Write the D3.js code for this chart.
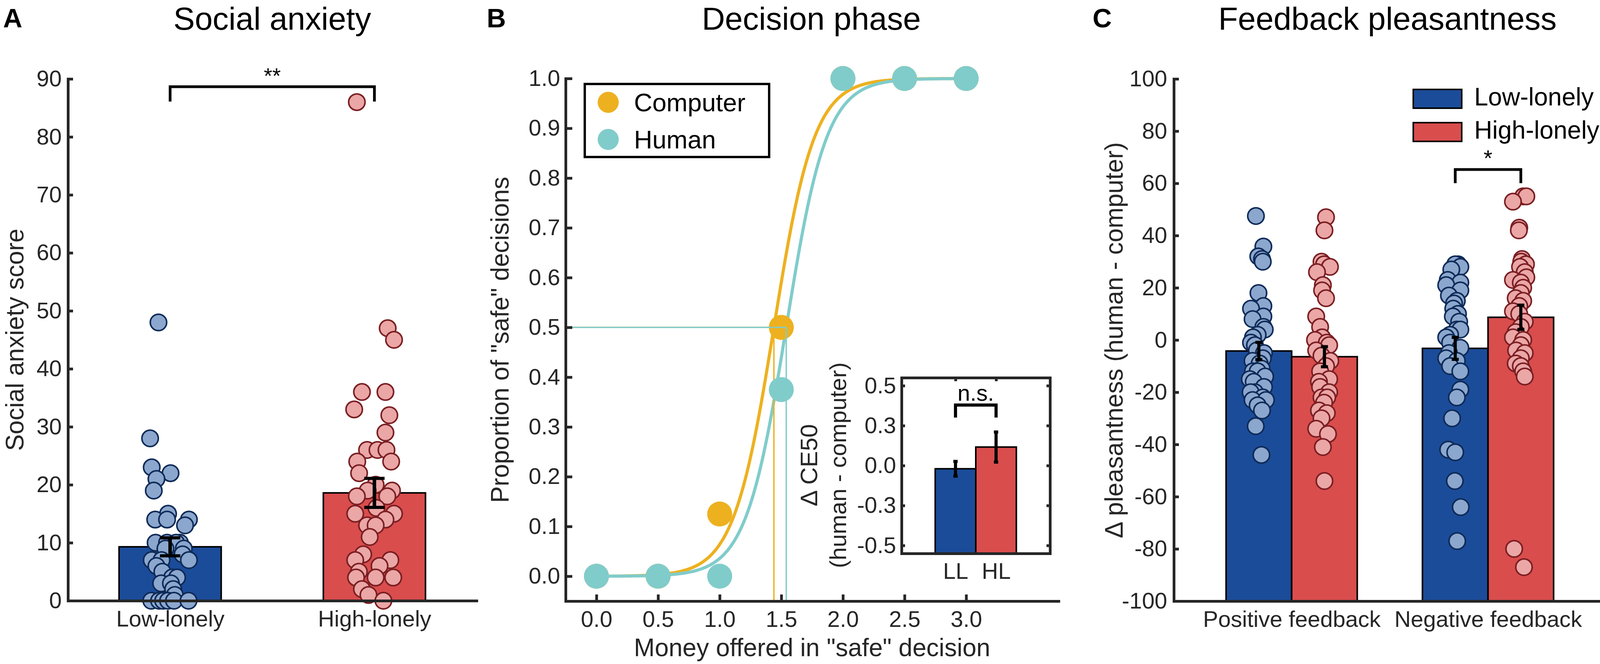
<!DOCTYPE html>
<html>
<head>
<meta charset="utf-8">
<script src="https://cdn.jsdelivr.net/npm/d3@7"></script>
<style>
  html, body { margin: 0; padding: 0; background: #fff; overflow: hidden; }
  svg { display: block; }
  text { font-family: "Liberation Sans", Arial, Helvetica, sans-serif; }
</style>
</head>
<body>
<div id="chart"></div>
<script>
// ---------- data ----------
// panel A: social anxiety
const lonelyGroups = ["Low-lonely", "High-lonely"];
const anxietyMeans = [9.3, 18.6];
const anxietySem = [1.55, 2.5];
// [score, jitter (x units)]
const anxietyLow = [[48,-0.057],[28,-0.098],[23,-0.090],[22,0.002],[21,-0.067],[19,-0.080],[15,-0.010],[14,-0.073],[14,-0.015],[14,0.092],[13,0.073],[10,-0.071],[10,-0.015],[10,0.048],[10,0.029],[9,-0.023],[9,0.067],[8,0.061],[7,-0.090],[7,-0.042],[7,0.092],[6,-0.067],[5,-0.038],[4,0.010],[4,0.034],[3,-0.044],[3,0.004],[2,0.015],[1,0.023],[0,-0.092],[0,-0.054],[0,-0.034],[0,-0.010],[0,0.019],[0,0.090]];
const anxietyHigh = [[86,-0.086],[47,0.065],[45,0.096],[36,-0.061],[36,0.054],[33,-0.099],[32,0.073],[29,0.054],[26,-0.036],[26,0.015],[26,0.059],[24,-0.084],[24,0.082],[22,-0.075],[20,0.006],[19,-0.033],[19,0.086],[18,-0.086],[18,0.063],[16,0.010],[15,-0.094],[15,0.096],[14,0.054],[13,-0.036],[13,0.006],[11,-0.023],[8,-0.055],[7,-0.094],[7,0.078],[6,0.025],[5,-0.076],[4,-0.090],[4,0.006],[4,0.092],[2,-0.061],[1,-0.029],[0,0.044]];

// panel B: decision phase
const moneyOffered = [0, 0.5, 1.0, 1.5, 2.0, 2.5, 3.0];
const propComputer = [0, 0, 0.125, 0.5, 1, 1, 1];
const propHuman = [0, 0, 0, 0.375, 1, 1, 1];
const agentNames = ["Computer", "Human"];
const fitCE50 = [1.44, 1.54];   // logistic fit midpoints
const fitSlope = [6.1, 6.1];    // logistic fit slopes
const ce50Groups = ["LL", "HL"];
const ce50Means = [-0.02, 0.116];
const ce50Sem = [0.046, 0.094];

// panel C: feedback pleasantness
const feedbackTypes = ["Positive feedback", "Negative feedback"];
const pleasantLowMeans = [-4.2, -3.2];
const pleasantHighMeans = [-6.4, 8.7];
const pleasantLowSem = [3.3, 4.2];
const pleasantHighSem = [3.85, 4.65];
const posLow = [[47.5,-0.015],[35.8,0.023],[32,-0.003],[31,0.016],[30,0.020],[18,-0.002],[13,0.023],[12,-0.040],[9,0.023],[8,-0.032],[5,0.023],[4,0.030],[2,-0.006],[1,-0.030],[-1,-0.040],[-2,-0.020],[-4,-0.010],[-5,0.026],[-7,0.020],[-8,-0.032],[-9,0.004],[-11,0.014],[-12,-0.030],[-12,-0.006],[-14,0.032],[-15,-0.046],[-16,-0.026],[-18,0.026],[-20,-0.020],[-20,-0.042],[-22,0.020],[-23,-0.032],[-23,0.036],[-25,-0.006],[-27,0.016],[-33,-0.016],[-44,0.013]];
const posHigh = [[47,0.008],[42,0],[30,-0.015],[29,-0.002],[28,0.028],[26,-0.038],[21,-0.008],[19,-0.012],[16,0.008],[9,-0.042],[5,-0.022],[1,-0.012],[0,-0.048],[-1,0.012],[-2,0.024],[-4,-0.042],[-6,-0.015],[-8,0.030],[-10,0.008],[-12,-0.022],[-15,0.024],[-16,-0.028],[-18,-0.022],[-20,0.024],[-22,-0.015],[-22,0.014],[-24,-0.002],[-27,-0.028],[-28,0.012],[-30,-0.015],[-34,-0.042],[-36,0.018],[-41,-0.008],[-54,0]];
const negLow = [[29,0.014],[29,0],[28,0.026],[27,-0.020],[23,-0.038],[22,0.026],[21,-0.046],[19,0.026],[17,-0.032],[15,0.008],[14,-0.006],[12,-0.010],[10,0.014],[9,-0.012],[7,0.020],[4,0.008],[4,0.026],[2,-0.026],[1,-0.046],[-1,-0.026],[-3,0.026],[-5,-0.032],[-7,-0.046],[-8,0.008],[-10,-0.026],[-12,0.026],[-19,0.026],[-22,0.008],[-30,-0.016],[-42,-0.036],[-43,0],[-54,-0.002],[-64,0.028],[-77,0.010]];
const negHigh = [[55,0.012],[55,0.028],[53,-0.040],[43,-0.008],[42,-0.010],[31,0.006],[30,0.002],[29,0.026],[28,-0.004],[26,0.020],[24,0.028],[23,-0.040],[22,0],[20,0.012],[18,0],[16,-0.026],[15,0.012],[13,-0.008],[11,-0.040],[10,-0.008],[7,0.020],[5,0],[3,-0.026],[1,-0.040],[0,0.012],[-2,0],[-4,-0.024],[-5,0.020],[-7,0],[-9,-0.026],[-10,0],[-12,0.012],[-14,0.020],[-80,-0.034],[-87,0.016]];

// ---------- styles ----------
const axisColor = "#262626";
const blueBar = "#1B4C99", redBar = "#D94D4D";
const blueDot = "#8CA7CE", blueEdge = "#0E2A57";
const redDot = "#EBA6A6", redEdge = "#7A1E22";
const orange = "#EDB120", teal = "#80CCCB";
const tickFont = 58, labelFont = 64, titleFont = 82;

const svg = d3.select("#chart").append("svg")
  .attr("width", 4130).attr("height", 1700);

function styleAxis(g, width) {
  g.attr("font-size", tickFont).attr("font-family", null);
  g.selectAll("path.domain").attr("stroke", axisColor).attr("stroke-width", width).attr("stroke-linecap", "square");
  g.selectAll(".tick line").attr("stroke", axisColor).attr("stroke-width", width);
  g.selectAll(".tick text").attr("fill", axisColor);
}

function dots(g, pts, center, x, y, fill, edge) {
  g.append("g").selectAll("circle").data(pts).join("circle")
    .attr("cx", d => x(center + d[1]))
    .attr("cy", d => y(d[0]))
    .attr("r", 21)
    .attr("fill", fill).attr("stroke", edge).attr("stroke-width", 4);
}

function errorBar(g, xc, lo, hi, capW, stemW) {
  g.append("line").attr("x1", xc).attr("x2", xc).attr("y1", lo).attr("y2", hi)
    .attr("stroke", "#000").attr("stroke-width", stemW);
  [lo, hi].forEach(v => g.append("line")
    .attr("x1", xc - capW / 2).attr("x2", xc + capW / 2).attr("y1", v).attr("y2", v)
    .attr("stroke", "#000").attr("stroke-width", 8));
}

function bracket(g, x1, x2, top, bottom, w) {
  g.append("path")
    .attr("d", `M${x1},${bottom}V${top}H${x2}V${bottom}`)
    .attr("fill", "none").attr("stroke", "#000").attr("stroke-width", w);
}

function title(x, txt) {
  svg.append("text").attr("x", x).attr("y", 76).attr("text-anchor", "middle")
    .attr("font-size", titleFont).text(txt);
}
function letter(x, txt) {
  svg.append("text").attr("x", x).attr("y", 70).attr("font-size", 68)
    .attr("font-weight", "bold").text(txt);
}
function yLabel(x, y, txt, size) {
  svg.append("text").attr("transform", `translate(${x},${y}) rotate(-90)`)
    .attr("text-anchor", "middle").attr("font-size", size || labelFont)
    .attr("fill", axisColor).text(txt);
}

// ---------- panel A ----------
{
  const x = d3.scaleLinear().domain([0.5, 2.5]).range([174, 1220]);
  const y = d3.scaleLinear().domain([0, 90]).range([1538, 202]);
  const g = svg.append("g");

  g.selectAll("rect.bar").data(anxietyMeans).join("rect")
    .attr("x", (d, i) => x(i + 1 - 0.25))
    .attr("width", x(1.5) - x(1))
    .attr("y", d => y(d)).attr("height", d => y(0) - y(d))
    .attr("fill", (d, i) => i === 0 ? blueBar : redBar)
    .attr("stroke", "#000").attr("stroke-width", 4);

  dots(g, anxietyLow, 1, x, y, blueDot, blueEdge);
  dots(g, anxietyHigh, 2, x, y, redDot, redEdge);

  anxietyMeans.forEach((m, i) =>
    errorBar(g, x(i + 1), y(m - anxietySem[i]), y(m + anxietySem[i]), 52, 9));

  const ay = g.append("g").attr("transform", `translate(${x(0.5)},0)`)
    .call(d3.axisLeft(y).tickValues(d3.range(0, 91, 10)).tickSize(-13).tickSizeOuter(0).tickPadding(16));
  styleAxis(ay, 7);
  const ax = g.append("g").attr("transform", `translate(0,${y(0)})`)
    .call(d3.axisBottom(x).tickValues([1, 2]).tickFormat((d, i) => lonelyGroups[i]).tickSize(0).tickSizeOuter(0).tickPadding(25));
  styleAxis(ax, 7);

  bracket(g, x(1), x(2), 222, 260, 7);
  g.append("text").attr("x", (x(1) + x(2)) / 2).attr("y", 213).attr("text-anchor", "middle")
    .attr("font-size", 56).text("**");

  yLabel(60, 870, "Social anxiety score");
  title(697, "Social anxiety");
  letter(8, "A");
}

// ---------- panel B ----------
{
  const x = d3.scaleLinear().domain([-0.25, 3.75]).range([1448, 2710]);
  const y = d3.scaleLinear().domain([-0.05, 1.0]).range([1539, 201]);
  const g = svg.append("g");
  const colors = [orange, teal];

  const line = d3.line().x(d => x(d[0])).y(d => y(d[1]));
  agentNames.forEach((name, i) => {
    const curve = d3.range(0, 3.0001, 0.01).map(v => [v, 1 / (1 + Math.exp(-fitSlope[i] * (v - fitCE50[i])))]);
    g.append("path").datum(curve).attr("d", line)
      .attr("fill", "none").attr("stroke", colors[i]).attr("stroke-width", 8);
  });

  g.append("g").selectAll("circle").data(moneyOffered).join("circle")
    .attr("cx", d => x(d)).attr("cy", (d, j) => y(propComputer[j])).attr("r", 32)
    .attr("fill", orange);

  agentNames.forEach((name, i) => {
    g.append("line").attr("x1", x(-0.25)).attr("x2", x(fitCE50[i])).attr("y1", y(0.5)).attr("y2", y(0.5))
      .attr("stroke", colors[i]).attr("stroke-width", 3.5);
  });
  agentNames.forEach((name, i) => {
    g.append("line").attr("x1", x(fitCE50[i])).attr("x2", x(fitCE50[i])).attr("y1", y(-0.05)).attr("y2", y(0.5))
      .attr("stroke", colors[i]).attr("stroke-width", 3.5);
  });

  g.append("g").selectAll("circle").data(moneyOffered).join("circle")
    .attr("cx", d => x(d)).attr("cy", (d, j) => y(propHuman[j])).attr("r", 32)
    .attr("fill", teal);

  const ay = g.append("g").attr("transform", `translate(${x(-0.25)},0)`)
    .call(d3.axisLeft(y).tickValues(d3.range(0, 1.01, 0.1)).tickFormat(d3.format(".1f")).tickSize(-17).tickSizeOuter(0).tickPadding(14));
  styleAxis(ay, 7);
  const ax = g.append("g").attr("transform", `translate(0,${y(-0.05)})`)
    .call(d3.axisBottom(x).tickValues(moneyOffered).tickFormat(d3.format(".1f")).tickSize(-17).tickSizeOuter(0).tickPadding(25));
  styleAxis(ax, 7);

  // legend
  const lg = g.append("g");
  lg.append("rect").attr("x", 1497).attr("y", 215).attr("width", 472).attr("height", 187)
    .attr("fill", "#fff").attr("stroke", "#000").attr("stroke-width", 6);
  agentNames.forEach((name, i) => {
    lg.append("circle").attr("cx", 1557).attr("cy", 262 + i * 95).attr("r", 27).attr("fill", colors[i]);
    lg.append("text").attr("x", 1623).attr("y", 285 + i * 95).attr("font-size", 65).text(name);
  });

  // inset
  const xi = d3.scaleLinear().domain([-0.33, 3.33]).range([2308, 2688]);
  const yi = d3.scaleLinear().domain([-0.55, 0.55]).range([1417, 967]);
  const ig = g.append("g");
  ig.append("rect").attr("x", xi.range()[0]).attr("y", yi.range()[1])
    .attr("width", xi.range()[1] - xi.range()[0]).attr("height", yi.range()[0] - yi.range()[1])
    .attr("fill", "#fff");
  const bw = xi(1.5) - xi(0.5);
  ig.selectAll("rect.bar").data(ce50Means).join("rect")
    .attr("x", (d, i) => xi(i + 1) - bw / 2).attr("width", bw)
    .attr("y", d => yi(d)).attr("height", d => yi(-0.55) - yi(d))
    .attr("fill", (d, i) => i === 0 ? blueBar : redBar)
    .attr("stroke", "#000").attr("stroke-width", 4);
  ce50Means.forEach((m, i) => errorBar(ig, xi(i + 1), yi(m - ce50Sem[i]), yi(m + ce50Sem[i]), 11, 8));

  const ticksI = [-0.5, -0.25, 0, 0.25, 0.5];
  const il = ig.append("g").attr("transform", `translate(${xi(-0.33)},0)`)
    .call(d3.axisLeft(yi).tickValues(ticksI).tickFormat(d => d.toFixed(1)).tickSize(-9).tickSizeOuter(0).tickPadding(14));
  styleAxis(il, 7);
  const ir = ig.append("g").attr("transform", `translate(${xi(3.33)},0)`)
    .call(d3.axisRight(yi).tickValues(ticksI).tickFormat("").tickSize(-9).tickSizeOuter(0));
  styleAxis(ir, 7);
  const it = ig.append("g").attr("transform", `translate(0,${yi(0.55)})`)
    .call(d3.axisTop(xi).tickValues([1, 2]).tickFormat("").tickSize(-9).tickSizeOuter(0));
  styleAxis(it, 7);
  const ib = ig.append("g").attr("transform", `translate(0,${yi(-0.55)})`)
    .call(d3.axisBottom(xi).tickValues([1, 2]).tickFormat((d, i) => ce50Groups[i]).tickSize(0).tickSizeOuter(0).tickPadding(24));
  styleAxis(ib, 7);

  bracket(ig, xi(1), xi(2), 1037, 1069, 8);
  ig.append("text").attr("x", (xi(1) + xi(2)) / 2).attr("y", 1026).attr("text-anchor", "middle")
    .attr("font-size", 58).text("n.s.");

  yLabel(2092, 1191, "\u0394 CE50", 62);
  yLabel(2166, 1191, "(human - computer)", 60);

  yLabel(1302, 870, "Proportion of \"safe\" decisions");
  svg.append("text").attr("x", 2079).attr("y", 1680).attr("text-anchor", "middle")
    .attr("font-size", labelFont).attr("fill", axisColor).text("Money offered in \"safe\" decision");
  title(2077, "Decision phase");
  letter(1246, "B");
}

// ---------- panel C ----------
{
  const x = d3.scaleLinear().domain([0.4, 2.6]).range([3005, 4111]);
  const y = d3.scaleLinear().domain([-100, 100]).range([1539, 202]);
  const g = svg.append("g");
  const half = 0.167;
  const bw = x(1 + 2 * half) - x(1);

  const bars = [];
  feedbackTypes.forEach((f, i) => {
    bars.push({ c: i + 1 - half, v: pleasantLowMeans[i], s: pleasantLowSem[i], col: blueBar });
    bars.push({ c: i + 1 + half, v: pleasantHighMeans[i], s: pleasantHighSem[i], col: redBar });
  });
  g.selectAll("rect.bar").data(bars).join("rect")
    .attr("x", d => x(d.c) - bw / 2).attr("width", bw)
    .attr("y", d => y(d.v)).attr("height", d => y(-100) - y(d.v))
    .attr("fill", d => d.col).attr("stroke", "#000").attr("stroke-width", 4);

  dots(g, posLow, 1 - half, x, y, blueDot, blueEdge);
  dots(g, posHigh, 1 + half, x, y, redDot, redEdge);
  dots(g, negLow, 2 - half, x, y, blueDot, blueEdge);
  dots(g, negHigh, 2 + half, x, y, redDot, redEdge);

  bars.forEach(b => errorBar(g, x(b.c), y(b.v - b.s), y(b.v + b.s), 18, 8));

  const ay = g.append("g").attr("transform", `translate(${x(0.4)},0)`)
    .call(d3.axisLeft(y).tickValues(d3.range(-100, 101, 20)).tickFormat(d => String(d)).tickSize(-13).tickSizeOuter(0).tickPadding(17));
  styleAxis(ay, 7);
  const ax = g.append("g").attr("transform", `translate(0,${y(-100)})`)
    .call(d3.axisBottom(x).tickValues([1, 2]).tickFormat((d, i) => feedbackTypes[i]).tickSize(0).tickSizeOuter(0).tickPadding(25));
  styleAxis(ax, 7);

  // legend (kept a little inside the right edge)
  const lonelyColors = [blueBar, redBar];
  const legX = 3774, legRight = 4096;
  const legTexts = lonelyGroups.map((name, i) => {
    g.append("rect").attr("x", 3618).attr("y", 229 + i * 85).attr("width", 124).attr("height", 48)
      .attr("fill", lonelyColors[i]).attr("stroke", "#000").attr("stroke-width", 4);
    return g.append("text").attr("x", legX).attr("y", 270 + i * 85).attr("font-size", 64).text(name);
  });
  const widest = d3.max(legTexts, t => t.node().getComputedTextLength());
  if (legX + widest > legRight) {
    const fs = 64 * (legRight - legX) / widest;
    legTexts.forEach(t => t.attr("font-size", fs));
  }

  bracket(g, x(2 - half), x(2 + half), 434, 469, 7);
  g.append("text").attr("x", x(2)).attr("y", 425).attr("text-anchor", "middle")
    .attr("font-size", 58).text("*");

  yLabel(2874, 871, "\u0394 pleasantness (human - computer)");
  title(3552, "Feedback pleasantness");
  letter(2797, "C");
}
</script>
</body>
</html>
